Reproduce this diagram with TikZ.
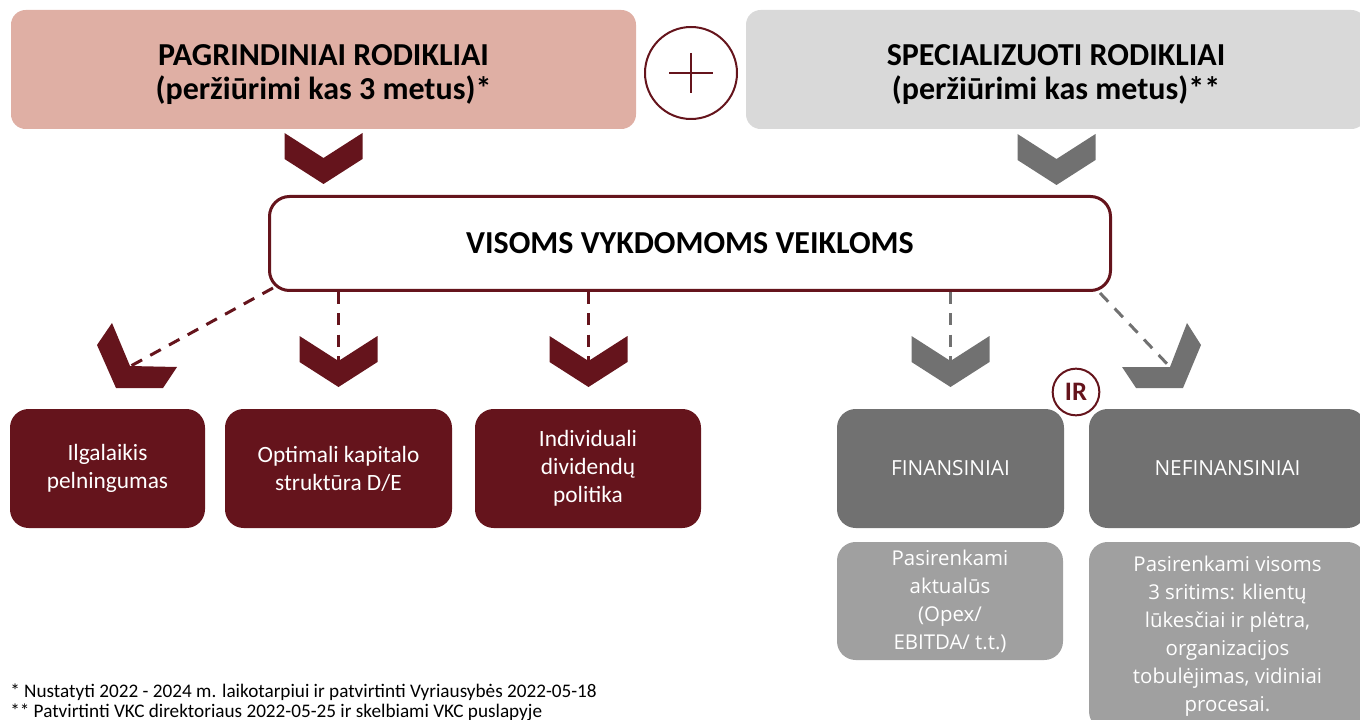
\documentclass[tikz,border=0pt]{standalone}
\usepackage{fontspec}
\setmainfont{Carlito}
\newfontfamily\osans{Open Sans}
\usetikzlibrary{calc}
\definecolor{dred}{HTML}{65141C}
\definecolor{pinkbox}{HTML}{DFAFA4}
\definecolor{lgreybox}{HTML}{D9D9D9}
\definecolor{greybox}{HTML}{717171}
\definecolor{pgreybox}{HTML}{A0A0A0}
\begin{document}
\begin{tikzpicture}[x=0.75pt,y=-0.75pt,
  topbox/.style={rounded corners=11pt, inner sep=0pt, minimum height=89.25pt},
  toptext/.style={inner sep=0pt, align=center, font=\fontsize{24}{26}\selectfont\bfseries},
  redbox/.style={fill=dred, text=white, rounded corners=14pt, inner sep=0pt, align=center,
    minimum height=89.25pt, font=\fontsize{17.5}{21}\selectfont},
  greyboxst/.style={fill=greybox, text=white, rounded corners=14pt, inner sep=0pt, align=center,
    minimum height=89.25pt, font=\osans\fontsize{15.6}{21}\selectfont},
  paleboxst/.style={fill=pgreybox, text=white, rounded corners=14pt, inner sep=0pt, align=center,
    font=\osans\fontsize{15.3}{21}\selectfont},
  chevpic/.pic={\fill (-39,0) -- (0,25) -- (39,0) -- (39,26) -- (0,51) -- (-39,26) -- cycle;},
  dashline/.style={line width=2.25pt, dash pattern=on 9pt off 7pt},
  foot/.style={anchor=base west, inner sep=0pt, font=\fontsize{14.4}{16}\selectfont}
]
\useasboundingbox (0,0) rectangle (1360,720);
\clip (0,0) rectangle (1360,720);

% top boxes
\node[topbox, fill=pinkbox, minimum width=468.75pt] (main) at (323.5,69.5) {};
\node[toptext] (maintxt) at ($(main.center)+(0,5)$) {PAGRINDINIAI RODIKLIAI\\(peržiūrimi kas 3 metus)*};
\node[topbox, fill=lgreybox, minimum width=465pt] (spec) at (1056,69.5) {};
\node[toptext] (spectxt) at ($(spec.center)+(0,5)$) {SPECIALIZUOTI RODIKLIAI\\(peržiūrimi kas metus)**};

% plus circle
\node[circle, draw=dred, line width=1.5pt, fill=white, minimum size=69pt, inner sep=0pt] (plus) at (691,73) {};
\draw[dred, line width=1.4pt] ($(plus.center)+(-22,0)$) -- ($(plus.center)+(22,0)$);
\draw[dred, line width=1.4pt] ($(plus.center)+(0,-20)$) -- ($(plus.center)+(0,20)$);

% top chevrons
\pic[dred] at (323.5,133) {chevpic};
\pic[greybox] at (1056.5,134) {chevpic};

% middle box
\node[draw=dred, line width=2.25pt, fill=white, rounded corners=15pt, minimum width=630.75pt,
  minimum height=70.5pt, inner sep=0pt, font=\fontsize{24}{26}\selectfont\bfseries] (mid) at (690,243.5)
  {VISOMS VYKDOMOMS VEIKLOMS};

% targets of connectors
\coordinate (t1) at (129,367);
\coordinate (t2) at (338.5,361);
\coordinate (t3) at (588.5,361);
\coordinate (t4) at (950.5,361);
\coordinate (t5) at (1170,367);

% connectors
\draw[dashline, dred] ($(mid.south west)+(5,-4)$) -- (t1);
\draw[dashline, dred] (mid.south -| t2) -- (t2);
\draw[dashline, dred] (mid.south -| t3) -- (t3);
\draw[dashline, greybox] (mid.south -| t4) -- (t4);
\draw[dashline, greybox] ($(mid.south east)+(-12,1)$) -- (t5);

% lower chevrons
\fill[dred] (112,323) -- (130,366) -- (177,367) -- (163,388) -- (116,388) -- (97,345) -- cycle;
\pic[dred] at (338.5,336) {chevpic};
\pic[dred] at (588.5,336) {chevpic};
\pic[greybox] at (950.5,336) {chevpic};
\fill[greybox] (1187,323) -- (1170,367) -- (1122,367) -- (1136,388) -- (1183,388) -- (1201,345) -- cycle;

% red boxes
\node[redbox, minimum width=146.25pt] (ilg) at (107.5,468.5) {Ilgalaikis\\pelningumas};
\node[redbox, minimum width=170.25pt] (opt) at (338.5,468.5) {Optimali kapitalo\\struktūra D/E};
\node[redbox, minimum width=169.5pt] (ind) at (588,468.5) {Individuali\\dividendų\\politika};

% grey boxes
\node[greyboxst, minimum width=170.25pt] (fin) at (950.5,468.5) {FINANSINIAI};
\node[greyboxst, minimum width=207.75pt] (nef) at (1227.5,468.5) {NEFINANSINIAI};

\node[paleboxst, minimum width=169.5pt, minimum height=88.5pt] (findet) at (950,601)
  {Pasirenkami\\aktualūs\\(Opex/\\EBITDA/ t.t.)};
\node[paleboxst, minimum width=207.75pt, minimum height=141pt] (nefdet) at (1227.5,636)
  {Pasirenkami visoms\\3 sritims: klientų\\lūkesčiai ir plėtra,\\organizacijos\\tobulėjimas, vidiniai\\procesai.};

% IR circle
\node[circle, draw=dred, line width=1.5pt, fill=white, minimum size=35pt, inner sep=0pt,
  text=dred, font=\fontsize{20}{22}\selectfont\bfseries] (ir) at (1076,392) {IR};

% footnotes
\node[foot] (fn1) at (10,697) {* Nustatyti 2022 - 2024 m. laikotarpiui ir patvirtinti Vyriausybės 2022-05-18};
\node[foot] (fn2) at (10,717) {** Patvirtinti VKC direktoriaus 2022-05-25 ir skelbiami VKC puslapyje};
\end{tikzpicture}
\end{document}
